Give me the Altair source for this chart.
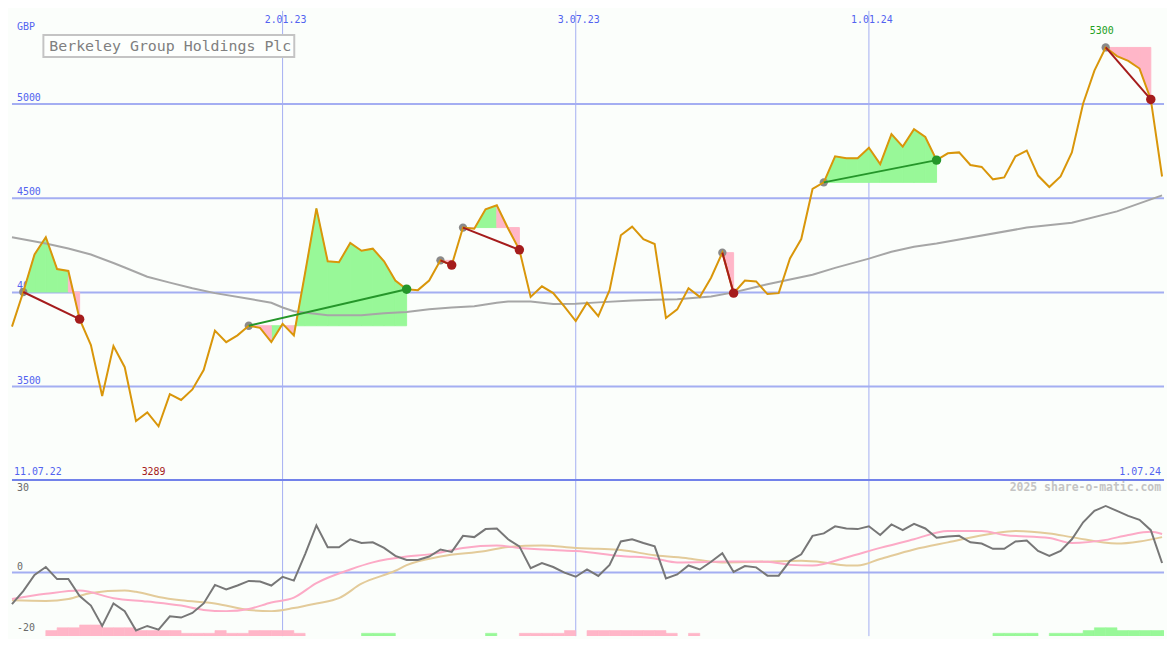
import altair as alt
import pandas as pd

START = pd.Timestamp("2022-07-18")

# weekly closing prices (GBP)
price = [3818, 4002, 4201, 4293, 4124, 4114, 3858, 3720, 3450, 3715,
         3603, 3317, 3363, 3289, 3460, 3429, 3485, 3588, 3797, 3736,
         3772, 3823, 3812, 3736, 3833, 3772, 4104, 4446, 4165, 4160,
         4262, 4221, 4232, 4165, 4063, 4017, 4012, 4063, 4170, 4145,
         4344, 4338, 4441, 4462, 4339, 4226, 3976, 4032, 3996, 3925,
         3848, 3945, 3874, 4012, 4303, 4349, 4283, 4257, 3864, 3910,
         4022, 3976, 4078, 4211, 3996, 4063, 4058, 3991, 3996, 4180,
         4283, 4549, 4584, 4722, 4712, 4712, 4768, 4681, 4840, 4774,
         4866, 4825, 4702, 4738, 4743, 4676, 4666, 4600, 4610, 4722,
         4753, 4620, 4559, 4615, 4743, 5003, 5177, 5300, 5254, 5229,
         5188, 5024, 4615]

# long moving average (week index, value)
ma_idx = [0, 3, 5, 7, 9, 10, 12, 14, 16, 18, 21, 23, 24, 25, 28, 31, 33, 35, 37, 39,
          41, 43, 44, 46, 48, 50, 52, 55, 57, 59, 62, 64, 67, 71, 73, 76, 78, 80, 82, 90,
          94, 98, 102]
ma_val = [4293, 4259, 4233, 4201, 4156, 4132, 4083, 4052, 4022, 3996, 3966, 3945, 3920, 3900, 3879, 3879, 3889, 3896, 3910, 3920,
          3926, 3945, 3952, 3952, 3938, 3940, 3947, 3957, 3961, 3964, 3978, 4000, 4043, 4094, 4130, 4179, 4216, 4242, 4259, 4344,
          4370, 4430, 4515]

# trades (entry week index, exit week index)
entry_idx = [1, 21, 38, 40, 63, 72, 97]
exit_idx = [6, 35, 39, 45, 64, 82, 101]

# lower panel: momentum oscillator (weekly)
mom = [-10.2, -6.0, -0.8, 1.8, -2.1, -2.1, -7.6, -10.7, -17.3, -10.0,
       -12.5, -18.75, -17.3, -18.5, -14.2, -14.6, -13.1, -10.0, -4.0, -5.5,
       -4.2, -2.7, -2.9, -4.2, -1.35, -2.6, 6.0, 15.3, 8.2, 8.2,
       10.8, 9.6, 9.8, 8.0, 5.4, 4.1, 4.1, 5.2, 7.5, 6.7,
       11.9, 11.5, 14.1, 14.3, 10.8, 8.5, 1.45, 3.1, 1.8, 0.0,
       -1.35, 1.0, -1.1, 2.5, 10.1, 10.8, 9.6, 8.5, -1.9, -0.6,
       2.3, 1.0, 3.5, 6.25, 0.2, 2.1, 1.7, -1.0, -1.0, 3.8,
       5.9, 11.9, 12.7, 15.0, 14.3, 14.1, 15.0, 12.2, 15.6, 13.75,
       15.8, 14.3, 11.3, 11.7, 11.9, 9.8, 9.4, 7.7, 7.7, 10.1,
       10.4, 7.0, 5.4, 7.0, 10.8, 16.3, 20.0, 21.6, 20.0, 18.4,
       17.1, 13.75, 3.1]

sig_idx = [0, 3, 6, 9, 12, 15, 17, 19, 21, 23, 25, 27, 30, 32, 35, 37, 40, 43, 45, 48,
           50, 54, 57, 59, 64, 67, 69, 71, 74, 77, 80, 83, 86, 88, 92, 94, 97, 99, 101, 102]
sig_val = [-8.6, -6.9, -5.8, -8.3, -9.4, -10.7, -12.1, -12.5, -11.8, -9.7, -8.1, -3.4, 1.0, 3.3, 5.2, 5.9, 8.0, 8.75, 8.0, 7.3,
           7.0, 5.4, 4.6, 3.3, 3.6, 3.5, 2.5, 2.3, 4.9, 8.0, 10.8, 13.5, 13.5, 12.2, 11.2, 9.6, 10.6, 12.2, 13.2, 12.5]

sig2_idx = [0, 3, 5, 7, 10, 11, 13, 15, 18, 21, 23, 25, 27, 29, 31, 34, 35, 38, 42, 44,
            47, 50, 52, 54, 57, 60, 63, 66, 70, 72, 74, 75, 77, 80, 83, 87, 89, 92, 94, 98,
            100, 102]
sig2_val = [-9.0, -9.2, -8.6, -6.6, -5.8, -6.25, -7.9, -9.0, -10.0, -12.1, -12.5, -11.5, -10.0, -8.3, -3.6, 0.6, 2.4, 5.2, 7.0, 8.3,
            8.75, 8.0, 7.7, 7.3, 5.6, 4.6, 3.3, 3.5, 3.8, 3.3, 2.3, 2.3, 4.4, 7.5, 9.8, 12.7, 13.5, 12.7, 11.5, 9.4,
            10.1, 11.5]

hist = [0, 0, 0, -2, -3, -3, -4, -4, -3, -3,
        -3, -2, -2, -2, -2, -1, -1, -1, -2, -1,
        -1, -2, -2, -2, -2, -1, 0, 0, 0, 0,
        0, 1, 1, 1, 0, 0, 0, 0, 0, 0,
        0, 0, 1, 0, 0, -1, -1, -1, -1, -2,
        0, -2, -2, -2, -2, -2, -2, -2, -1, 0,
        -1, 0, 0, 0, 0, 0, 0, 0, 0, 0,
        0, 0, 0, 0, 0, 0, 0, 0, 0, 0,
        0, 0, 0, 0, 0, 0, 0, 1, 1, 1,
        1, 0, 1, 1, 1, 2, 3, 3, 2, 2,
        2, 2, 2]

grid_prices = [3500, 4000, 4500, 5000]
grid_dates = ["2023-01-02", "2023-07-03", "2024-01-01"]
grid_labels = ["2.01.23", "3.07.23", "1.01.24"]
start_label = "11.07.22"
end_label = "1.07.24"
title_text = "Berkeley Group Holdings Plc"

# ---------------- styling ----------------
W, HT, HB = 1159, 472, 157
FONT = "DejaVu Sans Mono"
GRID = "#a4aef2"
SEP = "#7282ea"
LBL = "#5263f0"
PRICE_C = "#d9960a"
MA_C = "#a6a6a6"
GREEN_F = "#98f898"
PINK_F = "#ffb6c8"
WIN_C = "#25962a"
LOSS_C = "#a51c1c"
BG = "#fbfefb"


def wk(i):
    return (START + pd.Timedelta(days=7 * i)).strftime("%Y-%m-%d")


xs = alt.Scale(domain=[alt.DateTime(year=2022, month=7, date=18, utc=True),
                       alt.DateTime(year=2024, month=7, date=2, hours=5, utc=True)])
ys = alt.Scale(domain=[3004, 5494], nice=False, zero=False)
yb = alt.Scale(domain=[-20.6, 30], nice=False, zero=False)


def X(f="date"):
    return alt.X(f"{f}:T", scale=xs, axis=None)


price_df = pd.DataFrame({"date": [wk(i) for i in range(len(price))], "v": price})
ma_df = pd.DataFrame({"date": [wk(i) for i in ma_idx], "v": ma_val})
gp_df = pd.DataFrame({"v": grid_prices, "t": [str(p) for p in grid_prices]})
gd_df = pd.DataFrame({"date": grid_dates, "t": grid_labels})

fill_rows, trade_rows, entry_rows, exit_rows = [], [], [], []
for t, (a, b) in enumerate(zip(entry_idx, exit_idx)):
    lvl = price[a]
    res = "win" if price[b] > lvl else "loss"
    for i in range(a, b):
        c = "up" if price[i + 1] >= lvl else "down"
        seg = f"{t}-{i}"
        fill_rows.append(dict(date=wk(i), v=price[i], lvl=lvl, seg=seg, c=c))
        fill_rows.append(dict(date=wk(i + 1), v=price[i + 1], lvl=lvl, seg=seg, c=c))
    trade_rows.append(dict(date=wk(a), v=price[a], trade=t, res=res))
    trade_rows.append(dict(date=wk(b), v=price[b], trade=t, res=res))
    entry_rows.append(dict(date=wk(a), v=price[a]))
    exit_rows.append(dict(date=wk(b), v=price[b], res=res))
fill_df = pd.DataFrame(fill_rows)
trade_df = pd.DataFrame(trade_rows)
entry_df = pd.DataFrame(entry_rows)
exit_df = pd.DataFrame(exit_rows)

imax = price.index(max(price))
imin = price.index(min(price))
one = pd.DataFrame({"t": [title_text]})

vgrid = alt.Chart(gd_df).mark_rule(color=GRID, strokeWidth=1).encode(x=X())

top_layers = [
    vgrid,
    alt.Chart(gp_df).mark_rule(color=GRID, strokeWidth=2).encode(y=alt.Y("v:Q", scale=ys, axis=None)),
    alt.Chart(gp_df).mark_text(align="left", baseline="bottom", dx=5, dy=-1, font=FONT, fontSize=10, color=LBL)
    .encode(x=alt.value(0), y=alt.Y("v:Q", scale=ys, axis=None), text="t:N"),
    alt.Chart(pd.DataFrame({"t": ["GBP"]})).mark_text(align="left", baseline="middle", font=FONT, fontSize=10, color=LBL)
    .encode(x=alt.value(5), y=alt.value(16.5), text="t:N"),
    alt.Chart(gd_df).mark_text(align="center", baseline="middle", dx=3, font=FONT, fontSize=10, color=LBL)
    .encode(x=X(), y=alt.value(8.7), text="t:N"),
    alt.Chart(pd.DataFrame({"t": [start_label]})).mark_text(align="left", baseline="middle", font=FONT, fontSize=10, color=LBL)
    .encode(x=alt.value(2), y=alt.value(464), text="t:N"),
    alt.Chart(pd.DataFrame({"t": [end_label]})).mark_text(align="right", baseline="middle", font=FONT, fontSize=10, color=LBL)
    .encode(x=alt.value(W - 3), y=alt.value(464), text="t:N"),
    alt.Chart(fill_df[fill_df.c == "up"]).mark_area(color=GREEN_F, opacity=1, stroke=GREEN_F, strokeWidth=1)
    .encode(x=X(), y=alt.Y("v:Q", scale=ys, axis=None), y2="lvl:Q", detail="seg:N"),
    alt.Chart(fill_df[fill_df.c == "down"]).mark_area(color=PINK_F, opacity=1, stroke=PINK_F, strokeWidth=1)
    .encode(x=X(), y=alt.Y("v:Q", scale=ys, axis=None), y2="lvl:Q", detail="seg:N"),
    alt.Chart(ma_df).mark_line(color=MA_C, strokeWidth=2).encode(x=X(), y=alt.Y("v:Q", scale=ys, axis=None)),
    alt.Chart(entry_df).mark_circle(size=70, color="#8a8a8a", opacity=1).encode(x=X(), y=alt.Y("v:Q", scale=ys, axis=None)),
    alt.Chart(price_df).mark_line(color=PRICE_C, strokeWidth=2).encode(x=X(), y=alt.Y("v:Q", scale=ys, axis=None)),
    alt.Chart(trade_df[trade_df.res == "win"]).mark_line(color=WIN_C, strokeWidth=2)
    .encode(x=X(), y=alt.Y("v:Q", scale=ys, axis=None), detail="trade:N"),
    alt.Chart(trade_df[trade_df.res == "loss"]).mark_line(color=LOSS_C, strokeWidth=2)
    .encode(x=X(), y=alt.Y("v:Q", scale=ys, axis=None), detail="trade:N"),
    alt.Chart(exit_df[exit_df.res == "win"]).mark_circle(size=90, color=WIN_C, opacity=1)
    .encode(x=X(), y=alt.Y("v:Q", scale=ys, axis=None)),
    alt.Chart(exit_df[exit_df.res == "loss"]).mark_circle(size=90, color=LOSS_C, opacity=1)
    .encode(x=X(), y=alt.Y("v:Q", scale=ys, axis=None)),
    alt.Chart(pd.DataFrame({"date": [wk(imax)], "t": [str(max(price))]}))
    .mark_text(align="center", baseline="middle", dx=-4, font=FONT, fontSize=10, color="#22a022")
    .encode(x=X(), y=alt.value(20.3), text="t:N"),
    alt.Chart(pd.DataFrame({"date": [wk(imin)], "t": [str(min(price))]}))
    .mark_text(align="center", baseline="middle", dx=-5, font=FONT, fontSize=10, color="#a52020")
    .encode(x=X(), y=alt.value(464), text="t:N"),
    alt.Chart(one).mark_rect(fill="#fdfffd", stroke="#c4c4c4", strokeWidth=2)
    .encode(x=alt.value(31.6), x2=alt.value(284), y=alt.value(24.2), y2=alt.value(46.5)),
    alt.Chart(one).mark_text(align="left", baseline="middle", font=FONT, fontSize=15, color="#808080")
    .encode(x=alt.value(37.5), y=alt.value(35.6), text="t:N"),
]
top = alt.layer(*top_layers).properties(width=W, height=HT)

hist_df = pd.DataFrame({"date": [wk(i) for i in range(len(hist))],
                        "date2": [wk(i + 1) for i in range(len(hist))],
                        "h": [abs(v) for v in hist], "s": hist})
hist_df = hist_df[hist_df.h > 0]
hs = alt.Scale(domain=[0, 56], nice=False, zero=True)

mom_df = pd.DataFrame({"date": [wk(i) for i in range(len(mom))], "v": mom})
sig_df = pd.DataFrame({"date": [wk(i) for i in sig_idx], "v": sig_val})
sig2_df = pd.DataFrame({"date": [wk(i) for i in sig2_idx], "v": sig2_val})

bot_layers = [
    vgrid,
    alt.Chart(pd.DataFrame({"v": [0]})).mark_rule(color=GRID, strokeWidth=2).encode(y=alt.Y("v:Q", scale=yb, axis=None)),
    alt.Chart(pd.DataFrame({"v": [30]})).mark_rule(color=SEP, strokeWidth=2).encode(y=alt.Y("v:Q", scale=yb, axis=None)),
    alt.Chart(hist_df[hist_df.s < 0]).mark_rect(color=PINK_F, clip=True, stroke=PINK_F, strokeWidth=0.6)
    .encode(x=X(), x2="date2:T", y=alt.Y("h:Q", scale=hs, axis=None), y2=alt.datum(0)),
    alt.Chart(hist_df[hist_df.s > 0]).mark_rect(color=GREEN_F, clip=True, stroke=GREEN_F, strokeWidth=0.6)
    .encode(x=X(), x2="date2:T", y=alt.Y("h:Q", scale=hs, axis=None), y2=alt.datum(0)),
    alt.Chart(sig2_df).mark_line(color="#e3cb9a", strokeWidth=2, interpolate="monotone")
    .encode(x=X(), y=alt.Y("v:Q", scale=yb, axis=None)),
    alt.Chart(sig_df).mark_line(color="#fcaac6", strokeWidth=2, interpolate="monotone")
    .encode(x=X(), y=alt.Y("v:Q", scale=yb, axis=None)),
    alt.Chart(mom_df).mark_line(color="#777777", strokeWidth=2).encode(x=X(), y=alt.Y("v:Q", scale=yb, axis=None)),
    alt.Chart(pd.DataFrame({"v": [0, -20], "t": ["0", "-20"]}))
    .mark_text(align="left", baseline="bottom", dx=5, dy=-1, font=FONT, fontSize=10, color="#6a6a6a")
    .encode(x=alt.value(0), y=alt.Y("v:Q", scale=yb, axis=None), text="t:N"),
    alt.Chart(pd.DataFrame({"t": ["30"]})).mark_text(align="left", baseline="middle", font=FONT, fontSize=10, color="#6a6a6a")
    .encode(x=alt.value(5), y=alt.value(8), text="t:N"),
    alt.Chart(pd.DataFrame({"t": ["2025 share-o-matic.com"]}))
    .mark_text(align="right", baseline="middle", font=FONT, fontSize=11.5, fontWeight="bold", color="#c4c4c4")
    .encode(x=alt.value(W - 3), y=alt.value(8), text="t:N"),
]
bottom = alt.layer(*bot_layers).resolve_scale(y="independent").properties(width=W, height=HB)

chart = (
    alt.vconcat(top, bottom, spacing=0, bounds="flush")
    .properties(padding=0, background=BG)
    .configure_view(stroke=None)
)

chart.save("out.html", embed_options={"renderer": "svg", "actions": False})
